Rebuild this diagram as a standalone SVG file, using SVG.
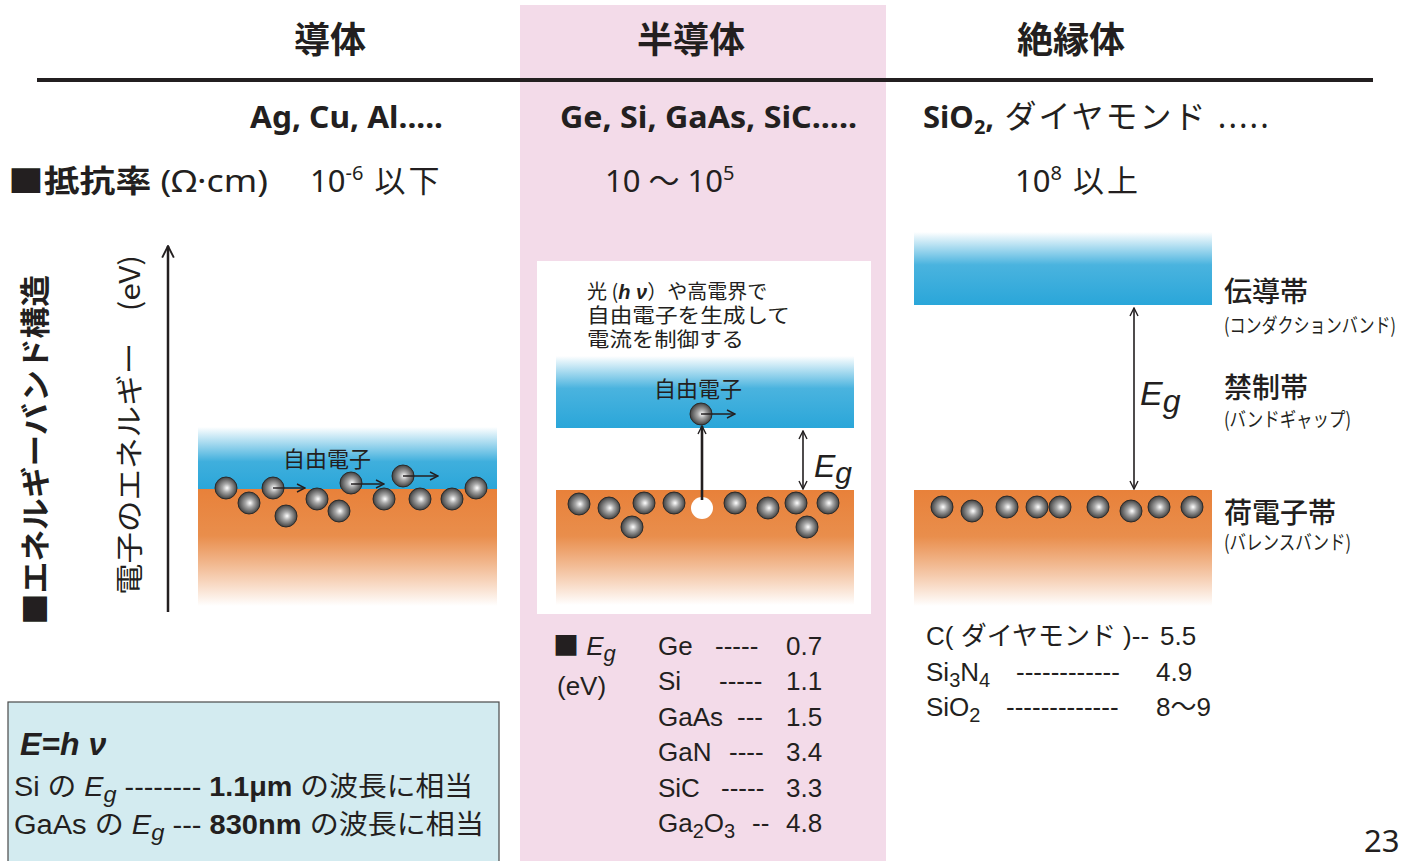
<svg xmlns="http://www.w3.org/2000/svg" width="1416" height="861" viewBox="0 0 1416 861">
  <defs>
    <style>
      .jp { font-family: "Noto Sans CJK JP", "Noto Sans", sans-serif; fill: #231f20; }
      .hd { font-family: "Noto Sans CJK JP", sans-serif; font-weight: 700; font-size: 36px; fill: #231f20; text-anchor: middle; }
      .mat { font-family: "Noto Sans", "Noto Sans CJK JP", sans-serif; font-weight: 700; font-size: 31px; fill: #231f20; }
      .res { font-family: "Noto Sans", "Noto Sans CJK JP", sans-serif; font-size: 31px; fill: #231f20; }
      .hv { font-family: "Liberation Sans", "Noto Sans CJK JP", sans-serif; fill: #231f20; }
      .tb { font-family: "Liberation Sans", "Noto Sans CJK JP", sans-serif; font-size: 26px; fill: #231f20; }
      .lbl { font-family: "Noto Sans CJK JP", sans-serif; font-size: 28px; font-weight: 500; fill: #231f20; }
      .sub { font-family: "Noto Sans CJK JP", sans-serif; font-size: 20px; fill: #231f20; }
      .e { fill: url(#ball); stroke: #2b2b2b; stroke-width: 1; }
      .ln { stroke: #231f20; fill: none; }
    </style>
    <radialGradient id="ball" cx="0.5" cy="0.5" r="0.55" fx="0.55" fy="0.5">
      <stop offset="0" stop-color="#ffffff"/>
      <stop offset="0.35" stop-color="#a8a8a8"/>
      <stop offset="0.8" stop-color="#555555"/>
      <stop offset="1" stop-color="#2a2a2a"/>
    </radialGradient>
    <linearGradient id="blueC" x1="0" y1="0" x2="0" y2="1">
      <stop offset="0" stop-color="#2aa6d9" stop-opacity="0"/>
      <stop offset="0.55" stop-color="#2aa6d9" stop-opacity="0.9"/>
      <stop offset="1" stop-color="#2aa6d9"/>
    </linearGradient>
    <linearGradient id="blueS" x1="0" y1="0" x2="0" y2="1">
      <stop offset="0" stop-color="#2aa6d9" stop-opacity="0"/>
      <stop offset="0.45" stop-color="#2aa6d9" stop-opacity="0.85"/>
      <stop offset="1" stop-color="#2aa6d9"/>
    </linearGradient>
    <linearGradient id="orange" x1="0" y1="0" x2="0" y2="1">
      <stop offset="0" stop-color="#e8813a"/>
      <stop offset="0.4" stop-color="#e98e4c"/>
      <stop offset="1" stop-color="#e8813a" stop-opacity="0"/>
    </linearGradient>
    <marker id="ah" viewBox="0 0 10 10" refX="9" refY="5" markerWidth="10" markerHeight="10" markerUnits="userSpaceOnUse" orient="auto-start-reverse">
      <path d="M1,1 L9,5 L1,9" fill="none" stroke="#231f20" stroke-width="1.4"/>
    </marker>
    <marker id="ahL" viewBox="0 0 12 12" refX="11" refY="6" markerWidth="14" markerHeight="14" markerUnits="userSpaceOnUse" orient="auto-start-reverse">
      <path d="M1,1 L11,6 L1,11" fill="none" stroke="#231f20" stroke-width="1.6"/>
    </marker>
  </defs>

  <rect width="1416" height="861" fill="#ffffff"/>

  <!-- semiconductor column background -->
  <rect x="520" y="5" width="366" height="856" fill="#f3dbe9"/>

  <!-- column headings -->
  <g id="headings">
    <text class="hd" x="330" y="53">導体</text>
    <text class="hd" x="691" y="53">半導体</text>
    <text class="hd" x="1071" y="53">絶縁体</text>
    <rect x="37" y="78" width="1336" height="4" fill="#231f20"/>
  </g>

  <!-- example materials -->
  <g id="materials">
    <text class="mat" x="250" y="128" textLength="193" lengthAdjust="spacingAndGlyphs">Ag, Cu, Al.....</text>
    <text class="mat" x="560" y="128" textLength="297" lengthAdjust="spacingAndGlyphs">Ge, Si, GaAs, SiC.....</text>
    <text class="mat" x="923" y="128">SiO<tspan font-size="20" dy="6">2</tspan><tspan dy="-6">,</tspan><tspan font-weight="400" font-size="32" letter-spacing="2"> ダイヤモンド .....</tspan></text>
  </g>

  <!-- resistivity row -->
  <g id="resistivity">
    <text class="res" x="8" y="192" textLength="260" lengthAdjust="spacingAndGlyphs"><tspan>■</tspan><tspan font-weight="700">抵抗率</tspan><tspan> (Ω·cm)</tspan></text>
    <text class="res" x="310" y="192" font-size="32">10<tspan font-size="20" dy="-12">-6</tspan><tspan dy="12" letter-spacing="3"> 以下</tspan></text>
    <text class="res" x="605" y="192" font-size="32">10 ～ 10<tspan font-size="20" dy="-12">5</tspan></text>
    <text class="res" x="1015" y="192" font-size="32">10<tspan font-size="20" dy="-12">8</tspan><tspan dy="12" letter-spacing="3"> 以上</tspan></text>
  </g>

  <!-- vertical axis labels -->
  <g id="axis">
    <text class="jp" font-size="30" font-weight="700" text-anchor="middle" transform="translate(46,450) rotate(-90)" textLength="350" lengthAdjust="spacingAndGlyphs">■エネルギーバンド構造</text>
    <text class="jp" font-size="28" text-anchor="middle" transform="translate(140,425) rotate(-90)" textLength="340" lengthAdjust="spacingAndGlyphs">電子のエネルギー　(eV)</text>
  </g>

  <!-- conductor band diagram -->
  <g id="conductor">
    <rect x="198" y="427" width="299" height="63" fill="url(#blueC)"/>
    <rect x="198" y="489" width="299" height="117" fill="url(#orange)"/>
    <text class="jp" font-size="22" x="283" y="467">自由電子</text>
    <circle class="e" cx="226" cy="488" r="11"/>
    <circle class="e" cx="249" cy="503" r="11"/>
    <circle class="e" cx="273" cy="488" r="11"/>
    <circle class="e" cx="286" cy="516" r="11"/>
    <circle class="e" cx="317" cy="499" r="11"/>
    <circle class="e" cx="339" cy="511" r="11"/>
    <circle class="e" cx="351" cy="483" r="11"/>
    <circle class="e" cx="384" cy="499" r="11"/>
    <circle class="e" cx="403" cy="476" r="11"/>
    <circle class="e" cx="420" cy="499" r="11"/>
    <circle class="e" cx="452" cy="499" r="11"/>
    <circle class="e" cx="476" cy="488" r="11"/>
  </g>

  <!-- semiconductor band diagram -->
  <g id="semiconductor">
    <rect x="537" y="261" width="334" height="353" fill="#ffffff"/>
    <text class="jp" font-size="20" x="587" y="299">光 (<tspan font-style="italic" font-weight="700" font-family="Liberation Sans, sans-serif">h ν</tspan>）や高電界で</text>
    <text class="jp" font-size="20" x="587" y="323" textLength="203" lengthAdjust="spacingAndGlyphs">自由電子を生成して</text>
    <text class="jp" font-size="20" x="587" y="347" textLength="157" lengthAdjust="spacingAndGlyphs">電流を制御する</text>
    <rect x="556" y="356" width="298" height="72" fill="url(#blueS)"/>
    <rect x="556" y="490" width="298" height="115" fill="url(#orange)"/>
    <text class="jp" font-size="22" x="698" y="397" text-anchor="middle">自由電子</text>
    <circle class="e" cx="701" cy="414" r="11"/>
    <text class="hv" font-size="32" font-style="italic" x="814" y="477">E<tspan font-size="30" dy="6">g</tspan></text>
    <circle class="e" cx="579" cy="504" r="11"/>
    <circle class="e" cx="609" cy="508" r="11"/>
    <circle class="e" cx="644" cy="503" r="11"/>
    <circle class="e" cx="632" cy="527" r="11"/>
    <circle class="e" cx="674" cy="503" r="11"/>
    <circle cx="702" cy="508" r="11" fill="#ffffff"/>
    <circle class="e" cx="735" cy="503" r="11"/>
    <circle class="e" cx="768" cy="508" r="11"/>
    <circle class="e" cx="796" cy="503" r="11"/>
    <circle class="e" cx="807" cy="527" r="11"/>
    <circle class="e" cx="828" cy="503" r="11"/>
  </g>

  <!-- insulator band diagram -->
  <g id="insulator">
    <rect x="914" y="232" width="298" height="73" fill="url(#blueS)"/>
    <rect x="914" y="490" width="298" height="116" fill="url(#orange)"/>
    <text class="hv" font-size="34" font-style="italic" x="1140" y="405">E<tspan font-size="32" dy="7">g</tspan></text>
    <circle class="e" cx="942" cy="507" r="11"/>
    <circle class="e" cx="972" cy="511" r="11"/>
    <circle class="e" cx="1007" cy="507" r="11"/>
    <circle class="e" cx="1037" cy="507" r="11"/>
    <circle class="e" cx="1060" cy="507" r="11"/>
    <circle class="e" cx="1098" cy="507" r="11"/>
    <circle class="e" cx="1131" cy="511" r="11"/>
    <circle class="e" cx="1159" cy="507" r="11"/>
    <circle class="e" cx="1192" cy="507" r="11"/>
  </g>

  <!-- band names -->
  <g id="band-labels">
    <text class="lbl" x="1224" y="302">伝導帯</text>
    <text class="sub" x="1224" y="333" font-size="17" textLength="172" lengthAdjust="spacingAndGlyphs">(コンダクションバンド)</text>
    <text class="lbl" x="1224" y="398">禁制帯</text>
    <text class="sub" x="1224" y="427" textLength="127" lengthAdjust="spacingAndGlyphs">(バンドギャップ)</text>
    <text class="lbl" x="1224" y="523">荷電子帯</text>
    <text class="sub" x="1224" y="550" textLength="127" lengthAdjust="spacingAndGlyphs">(バレンスバンド)</text>
  </g>

  <!-- connectors: arrows -->
  <g id="connectors">
    <line class="ln" x1="168" y1="612" x2="168" y2="246" stroke-width="2.5" marker-end="url(#ahL)"/>
    <line class="ln" x1="273" y1="488" x2="305" y2="488" stroke-width="1.4" marker-end="url(#ah)"/>
    <line class="ln" x1="351" y1="484" x2="384" y2="484" stroke-width="1.4" marker-end="url(#ah)"/>
    <line class="ln" x1="403" y1="476" x2="438" y2="476" stroke-width="1.4" marker-end="url(#ah)"/>
    <line class="ln" x1="701" y1="414" x2="735" y2="414" stroke-width="1.4" marker-end="url(#ah)"/>
    <line class="ln" x1="702" y1="500" x2="702" y2="426" stroke-width="2.6" marker-end="url(#ah)"/>
    <line class="ln" x1="803" y1="431" x2="803" y2="489" stroke-width="1.6" marker-start="url(#ah)" marker-end="url(#ah)"/>
    <line class="ln" x1="1134" y1="308" x2="1134" y2="489" stroke-width="1.6" marker-start="url(#ah)" marker-end="url(#ah)"/>
  </g>

  <!-- band gap table (semiconductors) -->
  <g id="eg-table">
    <text class="tb" x="553" y="655"><tspan font-family="Noto Sans CJK JP, sans-serif">■</tspan> <tspan font-style="italic">E</tspan><tspan font-style="italic" font-size="22" dy="6">g</tspan></text>
    <text class="tb" x="557" y="695">(eV)</text>
    <text class="tb" y="655"><tspan x="658">Ge</tspan><tspan x="715">-----</tspan><tspan x="786">0.7</tspan></text>
    <text class="tb" y="690"><tspan x="658">Si</tspan><tspan x="719">-----</tspan><tspan x="786">1.1</tspan></text>
    <text class="tb" y="726"><tspan x="658">GaAs</tspan><tspan x="737">---</tspan><tspan x="786">1.5</tspan></text>
    <text class="tb" y="761"><tspan x="658">GaN</tspan><tspan x="729">----</tspan><tspan x="786">3.4</tspan></text>
    <text class="tb" y="797"><tspan x="658">SiC</tspan><tspan x="721">-----</tspan><tspan x="786">3.3</tspan></text>
    <text class="tb" y="832"><tspan x="658">Ga</tspan><tspan font-size="20" dy="6">2</tspan><tspan dy="-6">O</tspan><tspan font-size="20" dy="6">3</tspan><tspan x="752" dy="-6">--</tspan><tspan x="786">4.8</tspan></text>
  </g>

  <!-- band gap table (insulators) -->
  <g id="eg-table-ins">
    <text class="tb" y="645"><tspan x="926">C( ダイヤモンド )--</tspan><tspan x="1160">5.5</tspan></text>
    <text class="tb" y="681"><tspan x="926">Si</tspan><tspan font-size="20" dy="6">3</tspan><tspan dy="-6">N</tspan><tspan font-size="20" dy="6">4</tspan><tspan x="1016" dy="-6">------------</tspan><tspan x="1156">4.9</tspan></text>
    <text class="tb" y="716"><tspan x="926">SiO</tspan><tspan font-size="20" dy="6">2</tspan><tspan x="1006" dy="-6">-------------</tspan><tspan x="1156">8～9</tspan></text>
  </g>

  <!-- E = h nu note -->
  <g id="photon-note">
    <rect x="8" y="702" width="491" height="165" fill="#d3ebf0" stroke="#4a4a4a" stroke-width="1.2"/>
    <text class="hv" font-size="32" font-weight="700" font-style="italic" x="20" y="755">E=h ν</text>
    <text class="hv" font-size="27" x="14" y="796" textLength="459" lengthAdjust="spacingAndGlyphs">Si の <tspan font-style="italic">E</tspan><tspan font-style="italic" font-size="22" dy="6">g</tspan><tspan dy="-6">  -------- </tspan><tspan font-weight="700">1.1μm</tspan> の波長に相当</text>
    <text class="hv" font-size="27" x="14" y="834" textLength="470" lengthAdjust="spacingAndGlyphs">GaAs の <tspan font-style="italic">E</tspan><tspan font-style="italic" font-size="22" dy="6">g</tspan><tspan dy="-6">  --- </tspan><tspan font-weight="700">830nm</tspan> の波長に相当</text>
  </g>

  <!-- page number -->
  <text class="res" font-size="25" x="1364" y="852">23</text>
</svg>
